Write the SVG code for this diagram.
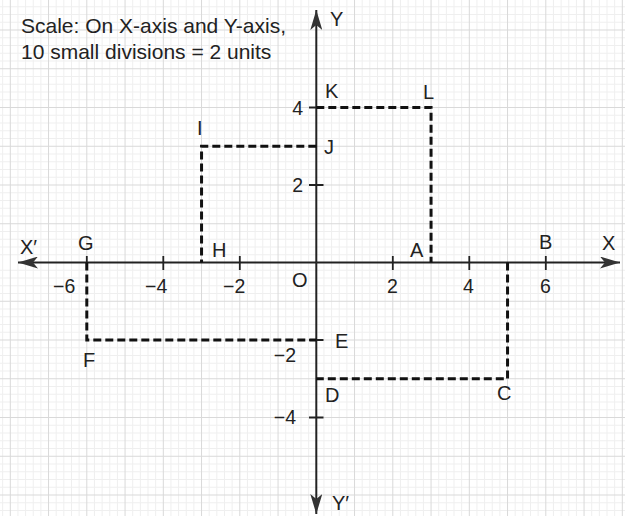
<svg xmlns="http://www.w3.org/2000/svg" width="625" height="516" viewBox="0 0 625 516">
<style>
.minor{stroke:#efefef;stroke-width:1;fill:none}
.major{stroke:#d9d9d9;stroke-width:1;fill:none}
.axis{stroke:#222;stroke-width:2;fill:none}
.tick{stroke:#222;stroke-width:1.8;fill:none}
.dash{stroke:#111;stroke-width:3;fill:none;stroke-dasharray:8 4}
text{font-family:"Liberation Sans",Arial,Helvetica,sans-serif;fill:#222}
.lbl{font-size:20px}
.num{font-size:19.5px}
.scale{font-size:21px}
</style>
<defs>
<marker id="arr" markerUnits="userSpaceOnUse" viewBox="0 0 20 12" refX="20" refY="6" markerWidth="20" markerHeight="12" orient="auto">
<path d="M0,0 L20,6 L0,12 L5,6 Z" fill="#333"/>
</marker>
</defs>
<rect width="625" height="516" fill="#fff"/>
<g id="grid">
<path class="minor" d="M2.65 0V516M17.95 0V516M25.6 0V516M33.25 0V516M40.9 0V516M56.2 0V516M63.85 0V516M71.5 0V516M79.15 0V516M94.45 0V516M102.1 0V516M109.75 0V516M117.4 0V516M132.7 0V516M140.35 0V516M148 0V516M155.65 0V516M170.95 0V516M178.6 0V516M186.25 0V516M193.9 0V516M209.2 0V516M216.85 0V516M224.5 0V516M232.15 0V516M247.45 0V516M255.1 0V516M262.75 0V516M270.4 0V516M285.7 0V516M293.35 0V516M301 0V516M308.65 0V516M323.95 0V516M331.6 0V516M339.25 0V516M346.9 0V516M362.2 0V516M369.85 0V516M377.5 0V516M385.15 0V516M400.45 0V516M408.1 0V516M415.75 0V516M423.4 0V516M438.7 0V516M446.35 0V516M454 0V516M461.65 0V516M476.95 0V516M484.6 0V516M492.25 0V516M499.9 0V516M515.2 0V516M522.85 0V516M530.5 0V516M538.15 0V516M553.45 0V516M561.1 0V516M568.75 0V516M576.4 0V516M591.7 0V516M599.35 0V516M607 0V516M614.65 0V516
M0 6.75H625M0 14.5H625M0 22.25H625M0 37.75H625M0 45.5H625M0 53.25H625M0 61H625M0 76.5H625M0 84.25H625M0 92H625M0 99.75H625M0 115.25H625M0 123H625M0 130.75H625M0 138.5H625M0 154H625M0 161.75H625M0 169.5H625M0 177.25H625M0 192.75H625M0 200.5H625M0 208.25H625M0 216H625M0 231.5H625M0 239.25H625M0 247H625M0 254.75H625M0 270.25H625M0 278H625M0 285.75H625M0 293.5H625M0 309H625M0 316.75H625M0 324.5H625M0 332.25H625M0 347.75H625M0 355.5H625M0 363.25H625M0 371H625M0 386.5H625M0 394.25H625M0 402H625M0 409.75H625M0 425.25H625M0 433H625M0 440.75H625M0 448.5H625M0 464H625M0 471.75H625M0 479.5H625M0 487.25H625M0 502.75H625M0 510.5H625"/>
<path class="major" d="M10.3 0V516M48.55 0V516M86.8 0V516M125.05 0V516M163.3 0V516M201.55 0V516M239.8 0V516M278.05 0V516M354.55 0V516M392.8 0V516M431.05 0V516M469.3 0V516M507.55 0V516M545.8 0V516M584.05 0V516M622.3 0V516
M0 30H625M0 68.75H625M0 107.5H625M0 146.25H625M0 185H625M0 223.75H625M0 301.25H625M0 340H625M0 378.75H625M0 417.5H625M0 456.25H625M0 495H625"/>
</g>
<g id="connectors">
<g id="axes">
<line class="axis" x1="316.3" y1="262.5" x2="620" y2="262.5" marker-end="url(#arr)"/>
<line class="axis" x1="316.3" y1="262.5" x2="18" y2="262.5" marker-end="url(#arr)"/>
<line class="axis" x1="316.3" y1="262.5" x2="316.3" y2="10" marker-end="url(#arr)"/>
<line class="axis" x1="316.3" y1="262.5" x2="316.3" y2="514" marker-end="url(#arr)"/>
</g>
<g id="ticks">
<path class="tick" d="M86.8 256V270M163.3 256V270M239.8 256V270M392.8 256V270M469.3 256V270M545.8 256V270M309 107.5H323.5M309 185H323.5M309 340H323.5M309 417.5H323.5"/>
</g>
<g id="dashed">
<path id="K-L-A" class="dash" d="M316.3 107.5H431.05V262.5"/>
<path id="J-I-H" class="dash" d="M316.3 146.25H201.55V262.5"/>
<path id="G-F-E" class="dash" d="M86.8 262.5V340H316.3"/>
<path id="C-D" class="dash" d="M507.55 262.5V378.75H316.3"/>
</g>
</g>
<g id="scale-note">
<text class="scale" x="21" y="33">Scale: On X-axis and Y-axis,</text>
<text class="scale" x="21" y="59">10 small divisions = 2 units</text>
</g>
<g id="axis-labels">
<text id="lbl-X" class="lbl" x="602" y="250">X</text>
<text id="lbl-X2" class="lbl" x="20" y="254">X′</text>
<text id="lbl-Y" class="lbl" x="330" y="26">Y</text>
<text id="lbl-Y2" class="lbl" x="332" y="510">Y′</text>
<text id="lbl-O" class="lbl" x="292" y="287">O</text>
</g>
<g id="tick-labels">
<text class="num" x="53" y="292.5">−6</text>
<text class="num" x="145" y="292.5">−4</text>
<text class="num" x="223" y="292.5">−2</text>
<text class="num" x="387" y="292.5">2</text>
<text class="num" x="463" y="292.5">4</text>
<text class="num" x="540" y="292.5">6</text>
<text class="num" x="303" y="114.5" text-anchor="end">4</text>
<text class="num" x="303" y="192" text-anchor="end">2</text>
<text class="num" x="296" y="362" text-anchor="end">−2</text>
<text class="num" x="296" y="424" text-anchor="end">−4</text>
</g>
<g id="A"><text class="lbl" x="410" y="257">A</text></g>
<g id="B"><text class="lbl" x="539" y="249">B</text></g>
<g id="C"><text class="lbl" x="497" y="400">C</text></g>
<g id="D"><text class="lbl" x="325" y="402">D</text></g>
<g id="E"><text class="lbl" x="335" y="348">E</text></g>
<g id="F"><text class="lbl" x="83" y="367">F</text></g>
<g id="G"><text class="lbl" x="78" y="250">G</text></g>
<g id="H"><text class="lbl" x="212" y="257">H</text></g>
<g id="I"><text class="lbl" x="197" y="135">I</text></g>
<g id="J"><text class="lbl" x="324" y="154">J</text></g>
<g id="K"><text class="lbl" x="325" y="98">K</text></g>
<g id="L"><text class="lbl" x="423" y="99">L</text></g>
</svg>
